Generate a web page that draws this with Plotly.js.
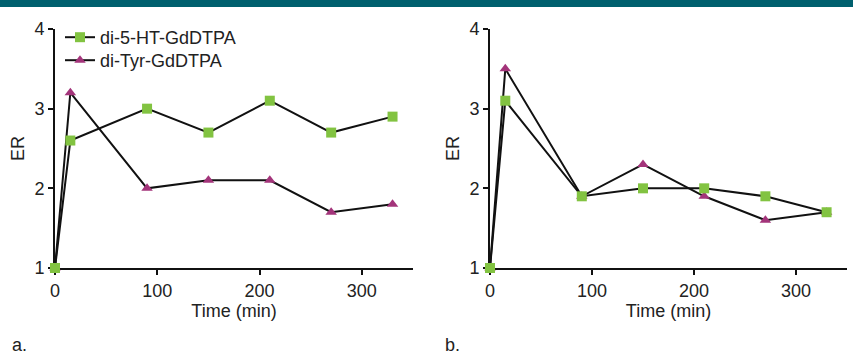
<!DOCTYPE html>
<html><head><meta charset="utf-8">
<script src="https://cdn.plot.ly/plotly-3.0.1.min.js"></script>
<style>html,body{margin:0;padding:0;background:#fff}#chart{width:853px;height:354px}</style>
</head><body><div id="chart"></div>
<script>
const timeMin = [0, 15, 90, 150, 210, 270, 330];
const seriesNames = ['di-5-HT-GdDTPA', 'di-Tyr-GdDTPA'];
const htA  = [1, 2.6, 3.0, 2.7, 3.1, 2.7, 2.9];
const tyrA = [1, 3.2, 2.0, 2.1, 2.1, 1.7, 1.8];
const htB  = [1, 3.1, 1.9, 2.0, 2.0, 1.9, 1.7];
const tyrB = [1, 3.5, 1.9, 2.3, 1.9, 1.6, 1.7];
const xTicks = [0, 100, 200, 300];
const yTicks = [1, 2, 3, 4];
const panelLabels = ['a.', 'b.'];

const green = '#82c341', purple = '#a3347a';
const fontFam = 'Liberation Sans, Arial, sans-serif';
function tr(y, name, xa, ya, sym, col, show, leg) {
  return {x: timeMin, y: y, name: name, xaxis: xa, yaxis: ya, type: 'scatter', mode: 'lines+markers',
    line: {color: '#111', width: 2}, cliponaxis: false, showlegend: show, legend: leg || 'legend',
    marker: {symbol: sym, color: col, size: 10, line: {width: 0}}};
}
const data = [
  tr(tyrA, seriesNames[1], 'x', 'y', 'triangle-up', purple, true, 'legend2'),
  tr(htA, seriesNames[0], 'x', 'y', 'square', green, true, 'legend'),
  tr(tyrB, seriesNames[1], 'x2', 'y2', 'triangle-up', purple, false),
  tr(htB, seriesNames[0], 'x2', 'y2', 'square', green, false)
];
const W = 853, H = 354;
function xax(d, anchor) {
  return {domain: d, anchor: anchor, range: [0, 350], tickvals: xTicks, ticks: 'outside', ticklen: 5, tickwidth: 2,
    showline: true, linewidth: 2, linecolor: '#111', tickcolor: '#111', showgrid: false, zeroline: false,
    layer: 'below traces', tickfont: {size: 18, color: '#222', family: fontFam},
    title: {text: 'Time (min)', font: {size: 18, color: '#222', family: fontFam}, standoff: 1}};
}
function yax(anchor) {
  return {domain: [1 - 268 / H, 1 - 29 / H], anchor: anchor, range: [1, 4], tickvals: yTicks, ticks: 'outside', ticklen: 5, tickwidth: 2,
    showline: true, linewidth: 2, linecolor: '#111', tickcolor: '#111', showgrid: false, zeroline: false,
    layer: 'below traces', tickfont: {size: 18, color: '#222', family: fontFam},
    title: {text: 'ER', font: {size: 18, color: '#222', family: fontFam}, standoff: 5}};
}
const legFont = {size: 18, color: '#222', family: fontFam};
const layout = {
  width: W, height: H, margin: {l: 0, r: 0, t: 0, b: 0}, paper_bgcolor: '#fff', plot_bgcolor: '#fff',
  font: {family: fontFam, color: '#222'},
  xaxis: xax([55 / W, 413 / W], 'y'), yaxis: yax('x'),
  xaxis2: xax([490 / W, 847 / W], 'y2'), yaxis2: yax('x2'),
  legend: {x: 60 / W, y: 1 - 19 / H, xanchor: 'left', yanchor: 'top', bgcolor: 'rgba(0,0,0,0)', font: legFont, itemwidth: 30},
  legend2: {x: 60 / W, y: 1 - 42 / H, xanchor: 'left', yanchor: 'top', bgcolor: 'rgba(0,0,0,0)', font: legFont, itemwidth: 30},
  shapes: [{type: 'rect', xref: 'paper', yref: 'paper', x0: 0, x1: 1, y0: 1 - 7 / H, y1: 1, fillcolor: '#00606e', line: {width: 0}}],
  annotations: [
    {text: panelLabels[0], xref: 'paper', yref: 'paper', x: 10 / W, y: 1 - 345 / H, xanchor: 'left', yanchor: 'middle', showarrow: false, font: {size: 18, color: '#222', family: fontFam}},
    {text: panelLabels[1], xref: 'paper', yref: 'paper', x: 443 / W, y: 1 - 345 / H, xanchor: 'left', yanchor: 'middle', showarrow: false, font: {size: 18, color: '#222', family: fontFam}}
  ]
};
Plotly.newPlot('chart', data, layout, {displayModeBar: false, staticPlot: true});
</script></body></html>
